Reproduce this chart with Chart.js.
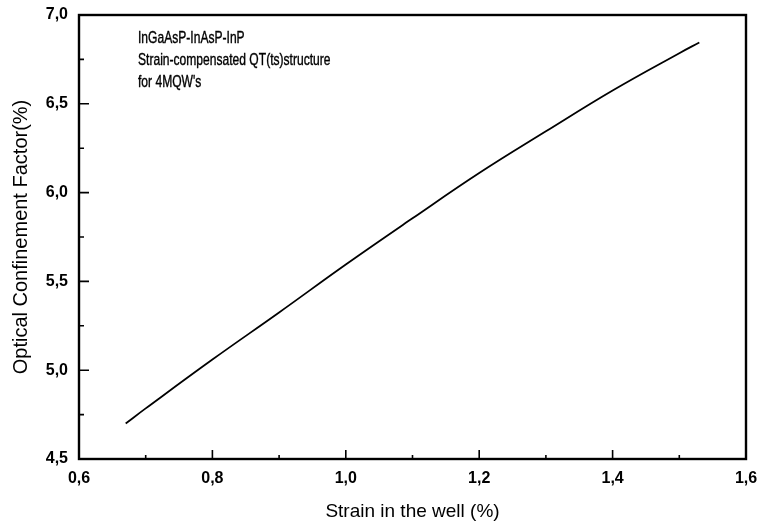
<!DOCTYPE html>
<html>
<head>
<meta charset="utf-8">
<script src="https://cdn.jsdelivr.net/npm/chart.js@4.4.1/dist/chart.umd.min.js"></script>
<style>
  html, body { margin: 0; padding: 0; background: #fff; }
  #wrap { width: 758px; height: 523px; position: relative; }
</style>
</head>
<body>
<div id="wrap"><canvas id="chart"></canvas></div>
<script>
// values
const strain = [0.67, 0.70, 0.80, 0.90, 1.00, 1.10, 1.20, 1.30, 1.40, 1.50, 1.53];
const confinement = [4.70, 4.785, 5.06, 5.325, 5.595, 5.855, 6.11, 6.345, 6.575, 6.785, 6.845];
const noteLines = ['InGaAsP-InAsP-InP', 'Strain-compensated QT(ts)structure', "for 4MQW's"];
const xTitle = 'Strain in the well (%)';
const yTitle = 'Optical Confinement Factor(%)';

const FONT = '"Liberation Sans", Arial, sans-serif';
const comma = v => Number(v).toFixed(1).replace('.', ',');

// box frame, inward ticks and the text note
const frame = {
  id: 'frame',
  afterDraw(chart) {
    const { ctx, chartArea: a, scales } = chart;
    ctx.save();
    ctx.strokeStyle = '#000';
    ctx.lineWidth = 2.4;
    ctx.strokeRect(a.left, a.top, a.right - a.left, a.bottom - a.top);

    ctx.lineWidth = 1.6;
    ctx.beginPath();
    for (let i = 0; i <= 10; i++) {
      const v = 0.6 + i * 0.1;
      const px = scales.x.getPixelForValue(v);
      const len = i % 2 === 0 ? 9 : 4;
      ctx.moveTo(px, a.bottom);
      ctx.lineTo(px, a.bottom - len);
    }
    for (let i = 0; i <= 10; i++) {
      const v = 4.5 + i * 0.25;
      const py = scales.y.getPixelForValue(v);
      const len = i % 2 === 0 ? 10 : 5;
      ctx.moveTo(a.left, py);
      ctx.lineTo(a.left + len, py);
    }
    ctx.stroke();

    // the note is set in a narrow face in the original
    ctx.fillStyle = '#000';
    ctx.font = '17px ' + FONT;
    ctx.textBaseline = 'middle';
    ctx.lineWidth = 0.4;
    ctx.translate(138, 0);
    ctx.scale(0.71, 1);
    noteLines.forEach((t, i) => {
      ctx.fillText(t, 0, 38 + i * 22);
      ctx.strokeText(t, 0, 38 + i * 22);
    });
    ctx.restore();
  }
};

new Chart(document.getElementById('chart'), {
  type: 'line',
  data: {
    datasets: [{
      data: strain.map((x, i) => ({ x: x, y: confinement[i] })),
      borderColor: '#000',
      borderWidth: 1.8,
      pointRadius: 0,
      tension: 0.4,
      fill: false
    }]
  },
  options: {
    responsive: true,
    maintainAspectRatio: false,
    animation: false,
    layout: { padding: { top: 15, right: 12, left: 0, bottom: 0 } },
    plugins: { legend: { display: false }, tooltip: { enabled: false } },
    scales: {
      x: {
        type: 'linear',
        min: 0.6,
        max: 1.6,
        grid: { display: false, drawTicks: false },
        border: { display: false },
        ticks: {
          stepSize: 0.2,
          padding: 10,
          color: '#000',
          font: { family: FONT, size: 16, weight: 'bold' },
          callback: v => comma(v)
        },
        title: {
          display: true,
          text: xTitle,
          color: '#000',
          font: { family: FONT, size: 19 },
          padding: { top: 0, bottom: 0 }
        },
        afterFit: s => { s.height = 64; s.paddingLeft = 0; s.paddingRight = 0; }
      },
      y: {
        min: 4.5,
        max: 7.0,
        grid: { display: false, drawTicks: false },
        border: { display: false },
        ticks: {
          stepSize: 0.5,
          padding: 11,
          color: '#000',
          font: { family: FONT, size: 16, weight: 'bold' },
          callback: v => comma(v)
        },
        title: {
          display: true,
          text: yTitle,
          color: '#000',
          font: { family: FONT, size: 20 },
          padding: { top: 9, bottom: 0 }
        },
        afterFit: s => { s.width = 79; s.paddingTop = 0; s.paddingBottom = 0; }
      }
    }
  },
  plugins: [frame]
});
</script>
</body>
</html>
